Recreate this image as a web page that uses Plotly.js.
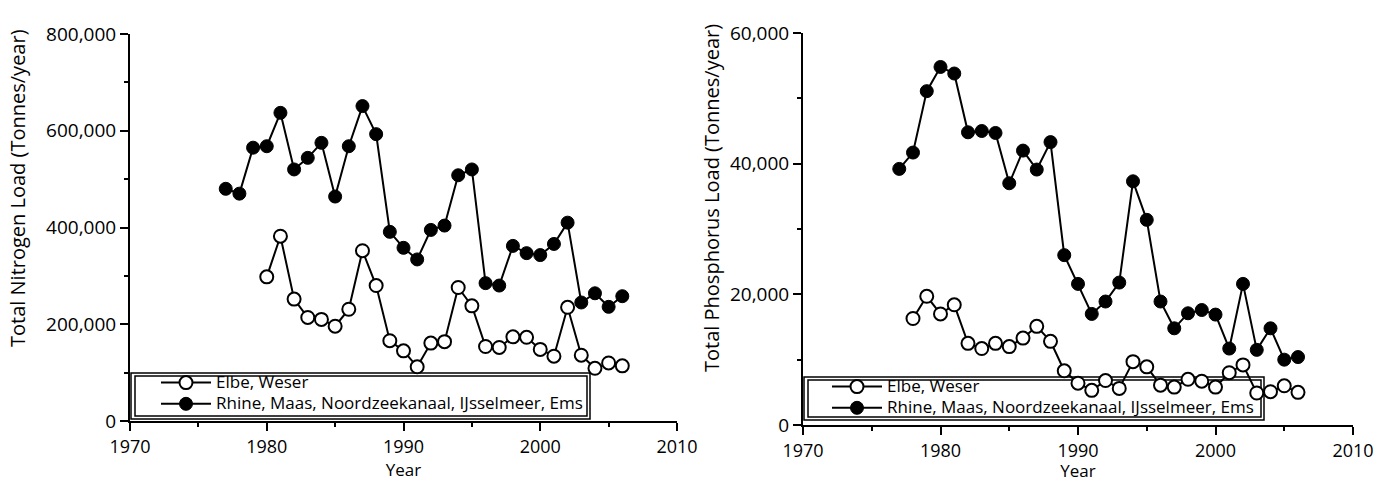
<!DOCTYPE html>
<html>
<head>
<meta charset="utf-8">
<script src="https://cdn.plot.ly/plotly-3.0.1.min.js"></script>
<style>html,body{margin:0;padding:0;background:#fff;}#chart{width:1391px;height:482px;}</style>
</head>
<body>
<div id="chart"></div>
<script>
// ---- Data ----
const seriesNames = ["Elbe, Weser", "Rhine, Maas, Noordzeekanaal, IJsselmeer, Ems"];

const nitrogenYearsRhine = [1977,1978,1979,1980,1981,1982,1983,1984,1985,1986,1987,1988,1989,1990,1991,1992,1993,1994,1995,1996,1997,1998,1999,2000,2001,2002,2003,2004,2005,2006];
const nitrogenRhine = [480000,470000,565000,568000,637000,520000,544000,575000,464000,568000,651000,593000,391000,358000,334000,395000,404000,508000,520000,285000,280000,362000,347000,343000,366000,410000,245000,264000,236000,258000];

const nitrogenYearsElbe = [1980,1981,1982,1983,1984,1985,1986,1987,1988,1989,1990,1991,1992,1993,1994,1995,1996,1997,1998,1999,2000,2001,2002,2003,2004,2005,2006];
const nitrogenElbe = [298000,382000,252000,214000,210000,196000,231000,352000,280000,166000,145000,112000,161000,164000,276000,238000,154000,152000,174000,173000,148000,134000,235000,136000,109000,120000,114000];

const phosphorusYearsRhine = [1977,1978,1979,1980,1981,1982,1983,1984,1985,1986,1987,1988,1989,1990,1991,1992,1993,1994,1995,1996,1997,1998,1999,2000,2001,2002,2003,2004,2005,2006];
const phosphorusRhine = [39200,41700,51100,54800,53800,44800,45000,44700,37000,42000,39100,43300,26000,21600,17000,18900,21800,37300,31400,18900,14800,17100,17600,16900,11700,21600,11500,14800,10000,10400];

const phosphorusYearsElbe = [1978,1979,1980,1981,1982,1983,1984,1985,1986,1987,1988,1989,1990,1991,1992,1993,1994,1995,1996,1997,1998,1999,2000,2001,2002,2003,2004,2005,2006];
const phosphorusElbe = [16300,19700,17000,18400,12500,11700,12500,12000,13300,15100,12800,8300,6400,5300,6800,5600,9700,8900,6100,5800,7000,6700,5800,8000,9200,4900,5100,6000,5000];

const xTitle = "Year";
const yTitleN = "Total Nitrogen Load (Tonnes/year)";
const yTitleP = "Total Phosphorus Load (Tonnes/year)";

// ---- Styling ----
const W = 1391, H = 482;
const FONT = "Open Sans, Noto Sans, sans-serif";
const openMarker = {symbol: "circle", size: 13, color: "#ffffff", line: {color: "#000", width: 2}};
const filledMarker = {symbol: "circle", size: 13, color: "#000000", line: {color: "#000", width: 1}};
const lineStyle = {color: "#000", width: 2};
const legendLabel = s => "<span style='font-size:17px'>" + s + "</span>";

const traces = [
  {x: nitrogenYearsElbe, y: nitrogenElbe, name: legendLabel(seriesNames[0]), mode: "lines+markers", marker: openMarker, line: lineStyle, xaxis: "x", yaxis: "y", legend: "legend"},
  {x: nitrogenYearsRhine, y: nitrogenRhine, name: legendLabel(seriesNames[1]), mode: "lines+markers", marker: filledMarker, line: lineStyle, xaxis: "x", yaxis: "y", legend: "legend"},
  {x: phosphorusYearsElbe, y: phosphorusElbe, name: legendLabel(seriesNames[0]), mode: "lines+markers", marker: openMarker, line: lineStyle, xaxis: "x2", yaxis: "y2", legend: "legend2"},
  {x: phosphorusYearsRhine, y: phosphorusRhine, name: legendLabel(seriesNames[1]), mode: "lines+markers", marker: filledMarker, line: lineStyle, xaxis: "x2", yaxis: "y2", legend: "legend2"}
];

const px = v => v / W;
const py = v => 1 - v / H;

function xAxis(d0, d1, anchor) {
  return {
    domain: [px(d0), px(d1)], anchor: anchor, range: [1970, 2010],
    tick0: 1970, dtick: 10, ticks: "outside", ticklen: 8, tickwidth: 2, tickcolor: "#000",
    minor: {dtick: 5, ticks: "outside", ticklen: 4, tickwidth: 2, tickcolor: "#000"},
    showline: true, linecolor: "#000", linewidth: 2, showgrid: false, zeroline: false,
    tickfont: {family: FONT, size: 18, color: "#000"},
    title: {text: xTitle, font: {family: FONT, size: 17, color: "#000"}, standoff: 7},
    fixedrange: true
  };
}
function yAxis(d0, d1, anchor, maxV, step) {
  return {
    domain: [py(d0), py(d1)], anchor: anchor, range: [0, maxV],
    tick0: 0, dtick: step, ticks: "outside", ticklen: 8, tickwidth: 2, tickcolor: "#000",
    minor: {dtick: step / 2, ticks: "outside", ticklen: 4, tickwidth: 2, tickcolor: "#000"},
    showline: true, linecolor: "#000", linewidth: 2, showgrid: false, zeroline: false,
    tickformat: ",d", tickfont: {family: FONT, size: 19, color: "#000"},
    fixedrange: true
  };
}

function box(x0, y0, x1, y1) {
  return {type: "rect", xref: "paper", yref: "paper", x0: px(x0), x1: px(x1), y0: py(y1), y1: py(y0),
          line: {color: "#000", width: 1.5}, fillcolor: "rgba(0,0,0,0)", layer: "below"};
}

const legendCommon = {
  xanchor: "left", yanchor: "top", bgcolor: "rgba(0,0,0,0)", borderwidth: 0,
  font: {family: FONT, size: 14, color: "#000"}, tracegroupgap: 0, itemwidth: 50, traceorder: "normal"
};

const layout = {
  width: W, height: H,
  margin: {l: 0, r: 0, t: 0, b: 0},
  paper_bgcolor: "#fff", plot_bgcolor: "#fff",
  font: {family: FONT, color: "#000"},
  showlegend: true,
  xaxis: xAxis(130, 677, "y"),
  yaxis: yAxis(421, 34, "x", 800000, 200000),
  xaxis2: xAxis(803, 1353, "y2"),
  yaxis2: yAxis(425, 33, "x2", 60000, 20000),
  legend: Object.assign({x: px(156), y: py(367)}, legendCommon),
  legend2: Object.assign({x: px(827), y: py(371)}, legendCommon),
  shapes: [
    box(131, 373, 590, 419), box(135, 376, 587, 416),
    box(804, 377, 1264, 420), box(808, 380, 1261, 417)
  ],
  annotations: [
    {text: yTitleN, xref: "paper", yref: "paper", x: px(18), y: py(188), textangle: -90, showarrow: false,
     xanchor: "center", yanchor: "middle", font: {family: FONT, size: 20, color: "#000"}},
    {text: yTitleP, xref: "paper", yref: "paper", x: px(711), y: py(198), textangle: -90, showarrow: false,
     xanchor: "center", yanchor: "middle", font: {family: FONT, size: 20, color: "#000"}}
  ]
};

Plotly.newPlot("chart", traces, layout, {displayModeBar: false, staticPlot: true});
</script>
</body>
</html>
